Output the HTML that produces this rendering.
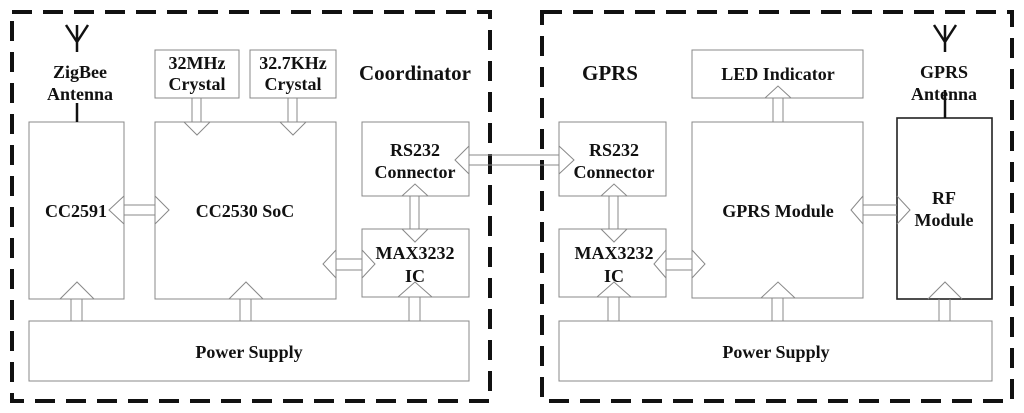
<!DOCTYPE html>
<html><head><style>body{margin:0;background:#fff}svg{display:block}text{font-family:"Liberation Serif",serif;font-weight:bold;font-size:18px;fill:#111;text-anchor:middle}</style></head><body>
<svg width="1024" height="413" viewBox="0 0 1024 413" xmlns="http://www.w3.org/2000/svg">
<g fill="none" stroke="#111" stroke-width="4" stroke-dasharray="20,11">
<rect x="12" y="12" width="478" height="389"/>
<rect x="542" y="12" width="470" height="389"/>
</g>
<g fill="#fff" stroke="#888" stroke-width="1">
<rect x="29" y="122" width="95" height="177"/>
<rect x="155" y="122" width="181" height="177"/>
<rect x="155" y="50" width="84" height="48"/>
<rect x="250" y="50" width="86" height="48"/>
<rect x="362" y="122" width="107" height="74"/>
<rect x="362" y="229" width="107" height="68"/>
<rect x="29" y="321" width="440" height="60"/>
<rect x="692" y="50" width="171" height="48"/>
<rect x="692" y="122" width="171" height="176"/>
<rect x="559" y="122" width="107" height="74"/>
<rect x="559" y="229" width="107" height="68"/>
<rect x="559" y="321" width="433" height="60"/>
</g>
<rect x="897" y="118" width="95" height="181" fill="none" stroke="#222" stroke-width="1.6"/>
<g stroke="#888" stroke-width="1" fill="none">
<path d="M124 205H155M124 215H155"/><path d="M124 196L109 210L124 224M155 196L169 210L155 224"/>
<path d="M336 259H362M336 270H362"/><path d="M336 250L323 264L336 278M362 250L375 264L362 278"/>
<path d="M469 155H559M469 165H559"/><path d="M469 146L455 160L469 174M559 146L574 160L559 174"/>
<path d="M666 259H692M666 270H692"/><path d="M666 250L654 264L666 278M692 250L705 264L692 278"/>
<path d="M863 205H897M863 215H897"/><path d="M863 196L851 210L863 224M897 196L910 210L897 224"/>
<path d="M192 98V122M201 98V122M184 122L197 135L210 122"/>
<path d="M288 98V122M297 98V122M280 122L293 135L306 122"/>
<path d="M410 196V229M419 196V229M402 196L415 184L428 196M402 229L415 242L428 229"/>
<path d="M609 196V229M618 196V229M601 196L614 184L627 196M601 229L614 242L627 229"/>
<path d="M773 98V122M783 98V122M765 98L778 86L791 98"/>
<path d="M71 299V321M82 299V321M60 299L77 282L94 299"/>
<path d="M240 299V321M251 299V321M229 299L246 282L263 299"/>
<path d="M409 297V321M420 297V321M398 297L415 282L432 297"/>
<path d="M608 297V321M619 297V321M597 297L614 282L631 297"/>
<path d="M772 298V321M783 298V321M761 298L778 282L795 298"/>
<path d="M939 299V321M950 299V321M928 299L945 282L962 299"/>
</g>
<g stroke="#111" stroke-width="2.5" fill="none">
<path d="M77 52V25M66 25L77 42L88 25"/><path d="M77 103V122"/>
<path d="M945 52V25M934 25L945 42L956 25"/><path d="M945 90V118"/>
</g>
<text x="80" y="78">ZigBee</text><text x="80" y="100">Antenna</text>
<text x="197" y="69">32MHz</text><text x="197" y="90">Crystal</text>
<text x="293" y="69">32.7KHz</text><text x="293" y="90">Crystal</text>
<text x="415" y="80" style="font-size:21px">Coordinator</text>
<text x="76" y="217">CC2591</text>
<text x="245" y="217">CC2530 SoC</text>
<text x="415" y="156">RS232</text><text x="415" y="178">Connector</text>
<text x="415" y="259">MAX3232</text><text x="415" y="282">IC</text>
<text x="249" y="358">Power Supply</text>
<text x="610" y="80" style="font-size:21px">GPRS</text>
<text x="778" y="80">LED Indicator</text>
<text x="944" y="78">GPRS</text><text x="944" y="100">Antenna</text>
<text x="614" y="156">RS232</text><text x="614" y="178">Connector</text>
<text x="614" y="259">MAX3232</text><text x="614" y="282">IC</text>
<text x="778" y="217">GPRS Module</text>
<text x="944" y="204">RF</text><text x="944" y="226">Module</text>
<text x="776" y="358">Power Supply</text>
</svg>
</body></html>
